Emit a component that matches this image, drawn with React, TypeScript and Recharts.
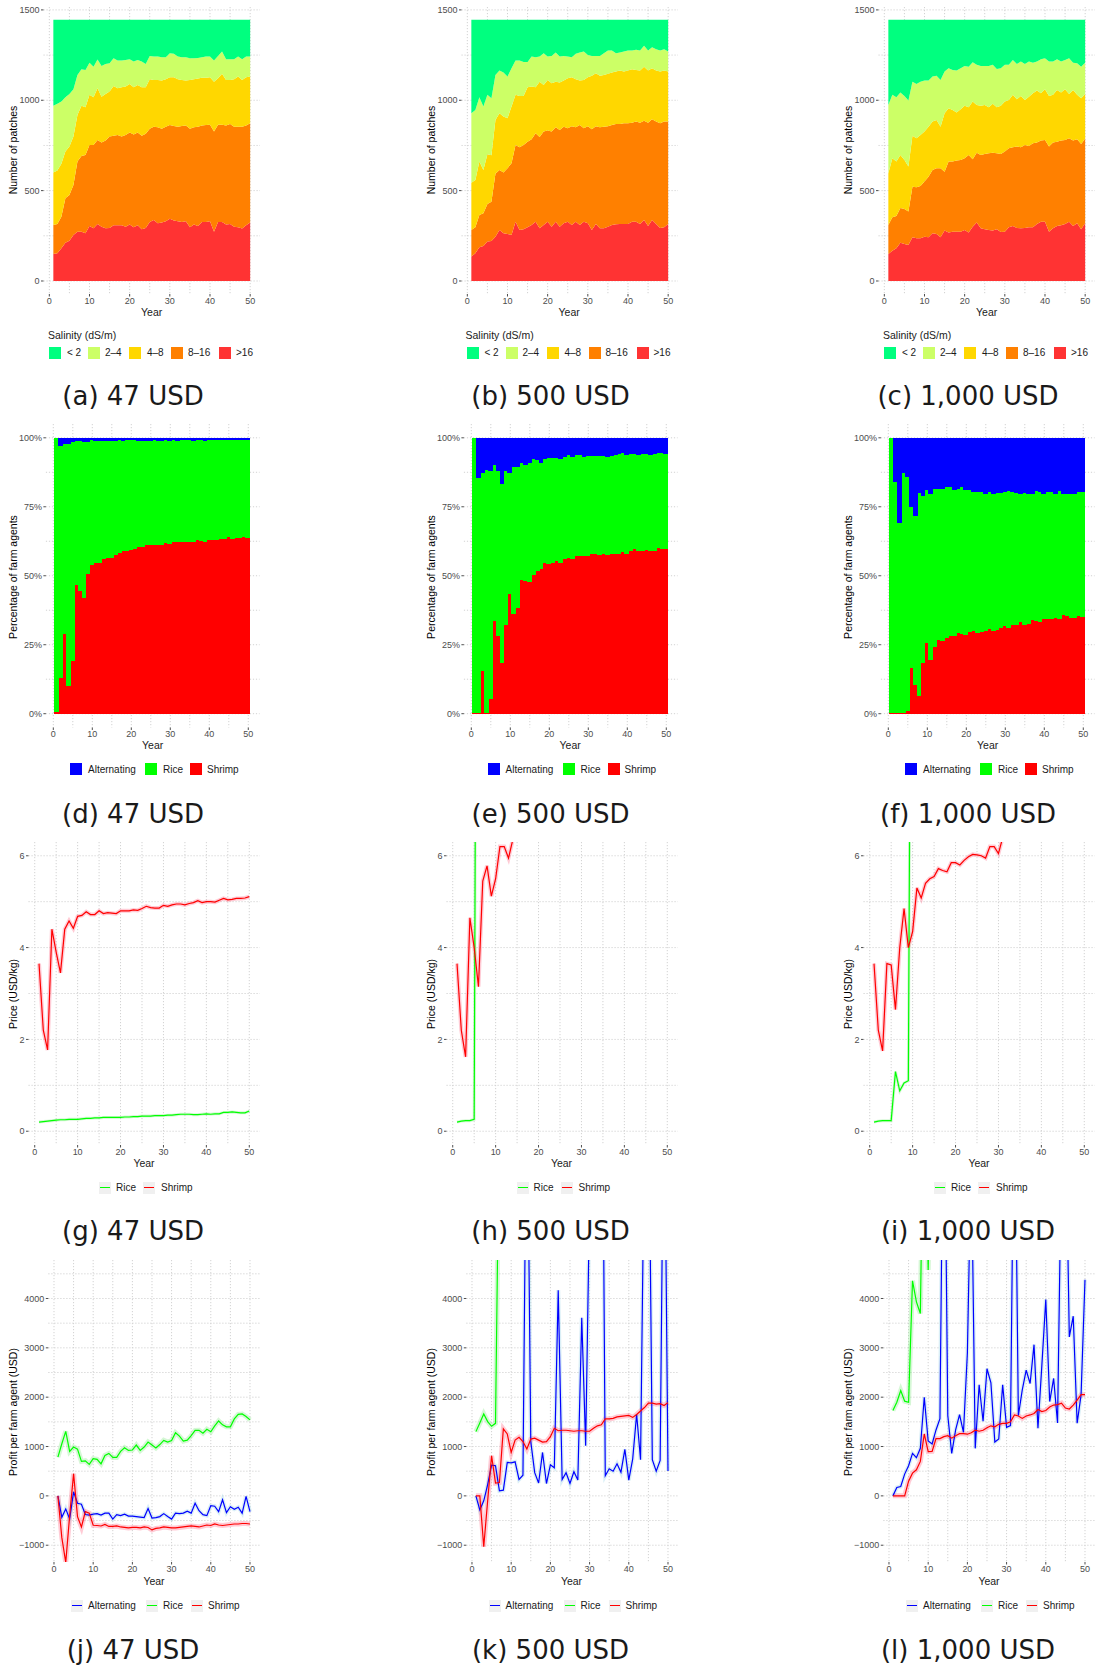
import React from 'react';
import { ComposedChart, Area, Bar, Line, XAxis, YAxis, CartesianGrid } from 'recharts';

// ---- data ----

const YEARS = [1, 2, 3, 4, 5, 6, 7, 8, 9, 10, 11, 12, 13, 14, 15, 16, 17, 18, 19, 20, 21, 22, 23, 24, 25, 26, 27, 28, 29, 30, 31, 32, 33, 34, 35, 36, 37, 38, 39, 40, 41, 42, 43, 44, 45, 46, 47, 48, 49, 50];

const PRICE_LABELS = ['47 USD', '500 USD', '1,000 USD'];

// salinity: cumulative upper edge of each band (number of patches)
const TOTAL_PATCHES = 1445;
const SALINITY_CLASSES = ['>16', '8–16', '4–8', '2–4', '< 2'];

const aRed = [149, 153, 181, 212, 223, 255, 273, 273, 264, 304, 292, 315, 300, 292, 293, 308, 308, 308, 300, 312, 297, 308, 286, 293, 327, 338, 319, 323, 330, 345, 334, 330, 327, 330, 297, 312, 304, 327, 327, 330, 273, 327, 327, 312, 315, 300, 297, 290, 308, 323];
const aOrange = [310, 315, 356, 458, 476, 531, 661, 692, 697, 753, 753, 780, 766, 777, 799, 803, 808, 799, 808, 821, 810, 821, 803, 814, 843, 854, 850, 843, 854, 863, 858, 854, 858, 861, 843, 850, 854, 861, 863, 865, 827, 865, 865, 861, 869, 854, 854, 854, 861, 873];
const aYellow = [600, 611, 648, 716, 744, 799, 919, 969, 961, 1030, 1017, 1066, 1020, 1035, 1048, 1079, 1066, 1072, 1076, 1090, 1072, 1085, 1072, 1072, 1116, 1112, 1112, 1109, 1116, 1127, 1127, 1116, 1112, 1109, 1112, 1116, 1120, 1124, 1124, 1127, 1103, 1122, 1146, 1112, 1112, 1116, 1131, 1112, 1127, 1131];
const aLight = [969, 980, 993, 1017, 1035, 1061, 1140, 1171, 1168, 1208, 1186, 1225, 1190, 1201, 1205, 1232, 1220, 1220, 1223, 1227, 1214, 1223, 1214, 1201, 1245, 1242, 1242, 1238, 1238, 1260, 1258, 1242, 1238, 1238, 1232, 1232, 1234, 1238, 1242, 1242, 1220, 1245, 1270, 1227, 1227, 1227, 1242, 1227, 1242, 1242];

const bRed = [135, 153, 186, 194, 218, 221, 245, 282, 264, 260, 255, 328, 282, 286, 297, 310, 328, 292, 310, 328, 300, 328, 300, 319, 328, 310, 328, 310, 328, 319, 282, 315, 292, 292, 300, 310, 314, 315, 315, 315, 328, 328, 315, 338, 304, 338, 315, 293, 297, 315];
const bOrange = [282, 297, 365, 375, 426, 439, 594, 614, 600, 624, 651, 753, 740, 753, 771, 784, 817, 797, 827, 832, 827, 850, 836, 854, 845, 856, 850, 863, 845, 856, 840, 856, 850, 854, 856, 863, 869, 869, 873, 873, 876, 882, 876, 887, 876, 895, 882, 873, 882, 882];
const bYellow = [544, 559, 661, 614, 701, 696, 891, 928, 910, 900, 965, 1030, 1024, 1024, 1072, 1076, 1072, 1103, 1085, 1112, 1094, 1103, 1098, 1109, 1122, 1127, 1116, 1109, 1112, 1127, 1135, 1149, 1135, 1140, 1146, 1153, 1159, 1164, 1159, 1164, 1172, 1168, 1164, 1186, 1164, 1177, 1164, 1159, 1164, 1159];
const bLight = [928, 946, 1017, 965, 1030, 1011, 1140, 1164, 1153, 1131, 1177, 1220, 1220, 1212, 1212, 1242, 1238, 1242, 1260, 1242, 1245, 1264, 1242, 1245, 1242, 1238, 1258, 1264, 1270, 1251, 1245, 1245, 1245, 1260, 1275, 1275, 1260, 1264, 1270, 1275, 1275, 1279, 1275, 1301, 1275, 1293, 1282, 1275, 1282, 1270];

const cRed = [149, 168, 181, 212, 205, 199, 242, 236, 236, 245, 242, 264, 260, 242, 279, 268, 273, 273, 273, 282, 268, 300, 323, 292, 286, 282, 279, 286, 271, 273, 297, 304, 293, 292, 293, 297, 297, 315, 328, 328, 273, 292, 304, 308, 315, 328, 304, 319, 286, 319];
const cOrange = [310, 352, 360, 404, 399, 384, 522, 518, 526, 550, 577, 614, 624, 624, 605, 661, 661, 666, 670, 679, 697, 673, 710, 697, 703, 707, 710, 707, 703, 716, 734, 740, 744, 740, 753, 747, 762, 766, 777, 780, 744, 766, 771, 777, 780, 790, 777, 784, 758, 788];
const cYellow = [596, 679, 661, 697, 670, 633, 803, 790, 808, 827, 854, 882, 891, 854, 928, 956, 946, 932, 950, 969, 961, 993, 974, 969, 974, 961, 980, 961, 969, 993, 1002, 1030, 1006, 1024, 1002, 1020, 1039, 1054, 1039, 1061, 1024, 1030, 1057, 1043, 1061, 1035, 1057, 1030, 1011, 1035];
const cLight = [974, 1030, 1017, 1043, 1024, 998, 1103, 1090, 1103, 1109, 1109, 1131, 1135, 1112, 1159, 1177, 1168, 1164, 1177, 1190, 1186, 1210, 1197, 1190, 1190, 1190, 1197, 1173, 1177, 1197, 1197, 1223, 1201, 1214, 1201, 1214, 1208, 1214, 1227, 1232, 1214, 1214, 1227, 1214, 1223, 1232, 1208, 1205, 1186, 1208];

// farm types: shrimp share and upper edge of rice share (%)
const dShrimp = [0.5, 13, 29, 10, 19, 46.5, 44.5, 42, 50.5, 54, 54.5, 54.5, 56, 56.5, 56.5, 57.5, 58.3, 59, 59, 59.5, 59.8, 60.3, 60.3, 61, 61, 61, 61.3, 61.3, 62, 61.6, 62.3, 62.4, 62.4, 62.4, 62.4, 62.4, 63, 62.7, 62.3, 63, 63, 63, 63.5, 63.5, 64, 63.4, 63.7, 63.7, 64, 63.7];
const dRiceTop = [100, 97, 97.8, 97.8, 98.5, 98.8, 98.8, 98.5, 98.5, 99.2, 99, 99, 99, 99, 99, 99, 99.2, 98.8, 99.2, 99.2, 99.2, 99, 99, 99, 99, 99.2, 98.9, 98.9, 99.2, 98.9, 99.2, 98.9, 99.2, 99.2, 99.2, 98.9, 99.2, 99.2, 98.9, 99.2, 99.3, 99.3, 99.3, 99.3, 99.3, 99.3, 99.3, 99.3, 99.3, 99.3];

const eShrimp = [0.3, 0.3, 15.5, 0.3, 5.3, 33.5, 28.3, 18.3, 32.3, 43.5, 36.3, 38.3, 48.5, 48.2, 47.8, 50.3, 51.8, 52.3, 54.5, 54.2, 54.8, 55.2, 54.8, 56.2, 56.5, 56, 57.2, 57.2, 57, 57.3, 57.8, 57.8, 57.5, 57.8, 57.5, 58, 58, 58, 58.6, 58, 59, 59.6, 59, 59, 59.3, 59, 59, 60, 59.7, 59.7];
const eRiceTop = [100, 85.3, 87.3, 88.3, 88, 90.2, 88, 83.3, 88, 87.2, 89.3, 89.3, 90.8, 90, 91, 92.2, 91.8, 90.8, 92.3, 92.7, 92.8, 92.8, 92.4, 93.2, 93.6, 93, 93.6, 93.6, 93.2, 93.5, 93.5, 93.5, 93.5, 93.5, 93.2, 93.5, 93.6, 94, 94.5, 93.6, 94.2, 94.2, 93.8, 94.2, 94.2, 93.8, 94.2, 94.5, 94.6, 94.2];

const fShrimp = [0.3, 0.3, 0.3, 0.3, 1, 16.5, 10.3, 6.5, 18.3, 25.8, 19.5, 24.3, 26.7, 26.5, 27.6, 28, 28.3, 29.3, 29, 28.5, 29.6, 30, 29.3, 29.5, 29.8, 30.8, 30, 30.5, 31.2, 31.8, 31.2, 32, 32, 33.2, 32.3, 32.5, 34, 33.6, 33.2, 34.3, 34.3, 34.3, 34.8, 34.5, 35.7, 35.3, 34.8, 34.8, 35.3, 35];
const fRiceTop = [100, 83.8, 69, 87.4, 85.8, 75, 71.8, 80, 78.8, 81, 79.5, 81.5, 81.5, 81.5, 82, 82.3, 81.2, 81.5, 82, 81.2, 81, 80.2, 80.5, 80.2, 79.8, 80.2, 79.8, 80, 80, 80.3, 80.8, 80.3, 80, 79.8, 80, 79.8, 79.5, 80.8, 80.2, 79.5, 80.5, 80.5, 79.5, 80.7, 79.8, 79.8, 79.8, 79.8, 80.2, 80.5];

// prices (USD/kg); later years run off the top of the panel
const gShrimp = [3.65, 2.2, 1.77, 4.4, 3.9, 3.45, 4.4, 4.58, 4.42, 4.68, 4.7, 4.78, 4.72, 4.72, 4.8, 4.74, 4.76, 4.75, 4.74, 4.8, 4.8, 4.8, 4.82, 4.81, 4.85, 4.9, 4.87, 4.86, 4.86, 4.92, 4.9, 4.93, 4.95, 4.95, 4.93, 4.96, 4.98, 5.02, 4.98, 5.0, 5.0, 4.99, 5.03, 5.07, 5.04, 5.05, 5.07, 5.07, 5.08, 5.11];
const gRice = [0.2, 0.21, 0.22, 0.23, 0.24, 0.25, 0.25, 0.26, 0.26, 0.26, 0.27, 0.28, 0.28, 0.29, 0.29, 0.3, 0.3, 0.3, 0.3, 0.3, 0.31, 0.31, 0.32, 0.32, 0.33, 0.33, 0.33, 0.34, 0.34, 0.34, 0.35, 0.35, 0.36, 0.37, 0.37, 0.37, 0.36, 0.36, 0.37, 0.38, 0.37, 0.38, 0.38, 0.41, 0.41, 0.42, 0.41, 0.4, 0.4, 0.44];
const hShrimp = [3.65, 2.2, 1.62, 4.65, 4.0, 3.15, 5.45, 5.78, 5.12, 5.5, 6.2, 6.2, 5.95, 6.35, 6.8];
const hRice = [0.2, 0.22, 0.23, 0.23, 0.26, 25];
const iShrimp = [3.65, 2.2, 1.75, 3.65, 3.62, 2.65, 4.0, 4.85, 4.0, 4.35, 5.3, 5.08, 5.4, 5.5, 5.55, 5.72, 5.68, 5.65, 5.85, 5.85, 5.8, 5.9, 5.98, 6.03, 6.02, 6.0, 5.95, 6.2, 6.2, 6.05, 6.4, 6.6];
const iRice = [0.2, 0.22, 0.23, 0.23, 0.23, 1.3, 0.88, 1.05, 1.1, 20];

// profit per farm agent (USD)
const jAlt = [0, -434, -264, -467, 81, -149, -170, -379, -390, -370, -360, -390, -350, -350, -470, -380, -400, -370, -410, -410, -420, -430, -440, -257, -450, -440, -420, -360, -420, -470, -350, -360, -350, -310, -350, -149, -300, -380, -400, -200, -210, -320, -80, -340, -220, -270, -230, -350, -10, -320];
const jRice = [786, 1057, 1307, 901, 989, 948, 698, 711, 637, 752, 740, 650, 820, 860, 779, 779, 901, 975, 921, 930, 1030, 920, 990, 1091, 1030, 970, 1040, 1125, 1090, 1120, 1280, 1210, 1110, 1130, 1220, 1328, 1330, 1270, 1350, 1300, 1420, 1518, 1440, 1400, 1400, 1560, 1653, 1660, 1610, 1540];
const jShrimp = [0, -847, -1348, -400, 447, -420, -630, -320, -350, -596, -600, -610, -580, -620, -620, -610, -630, -640, -650, -640, -640, -650, -630, -640, -690, -660, -650, -630, -640, -650, -650, -640, -630, -620, -610, -620, -630, -610, -590, -600, -570, -590, -600, -590, -580, -570, -570, -560, -560, -570];

const kAlt = [0, -285, -100, 230, 624, 610, 102, 115, 678, 670, 690, 332, 420, 9000, 1100, 470, 260, 880, 250, 630, 570, 4169, 330, 470, 250, 490, 320, 3607, 1017, 6000, 9000, 9000, 12000, 407, 549, 500, 651, 480, 942, 319, 750, 1654, 732, 7500, 8830, 732, 500, 720, 9000, 502];
const kRice = [1302, 1478, 1661, 1505, 1410, 1470, 8000];
const kShrimp = [0, 0, -1030, -100, 813, 258, 270, 1356, 1254, 881, 1130, 1186, 1100, 949, 1150, 1170, 1130, 1090, 1100, 1200, 1369, 1320, 1330, 1330, 1320, 1310, 1320, 1320, 1310, 1310, 1370, 1420, 1440, 1559, 1560, 1570, 1600, 1610, 1620, 1630, 1590, 1650, 1720, 1790, 1878, 1880, 1860, 1870, 1830, 1890];

const lAlt = [0, 169, 190, 441, 610, 861, 773, 963, 2000, 1112, 1051, 1336, 1566, 9500, 1627, 861, 1336, 1647, 1288, 2900, 7000, 963, 2251, 1512, 2576, 2292, 1092, 1153, 2251, 1390, 1424, 9000, 1627, 2149, 2549, 2278, 3064, 1369, 2650, 3980, 1912, 2380, 1478, 7000, 8000, 3220, 3641, 1471, 2047, 4380];
const lRice = [1729, 1898, 2136, 1919, 1898, 4359, 3932, 3695, 9000, 4576, 9000];
const lShrimp = [0, 0, 0, 0, 298, 461, 529, 698, 1254, 895, 900, 1159, 1160, 1200, 1220, 1170, 1220, 1260, 1260, 1250, 1280, 1330, 1310, 1330, 1380, 1420, 1400, 1450, 1470, 1470, 1500, 1640, 1620, 1570, 1620, 1640, 1670, 1750, 1710, 1730, 1800, 1840, 1850, 1880, 1780, 1760, 1840, 1940, 2050, 2050];

// ---- tables ----

const salinityTable = (red: number[], orange: number[], yellow: number[], light: number[]) =>
  YEARS.map((year, i) => ({
    year,
    s16: red[i],
    s8: orange[i] - red[i],
    s4: yellow[i] - orange[i],
    s2: light[i] - yellow[i],
    s0: TOTAL_PATCHES - light[i],
  }));

const shareTable = (shrimp: number[], riceTop: number[]) =>
  YEARS.map((year, i) => ({ year, shrimp: shrimp[i], rice: riceTop[i] - shrimp[i], alt: 100 - riceTop[i] }));

const lineTable = (rice: number[], shrimp: number[], alt?: number[]) =>
  YEARS.map((year, i) => ({
    year,
    rice: rice[i] ?? null,
    shrimp: shrimp[i] ?? null,
    alt: alt ? alt[i] ?? null : null,
  }));

const salinityData = [salinityTable(aRed, aOrange, aYellow, aLight), salinityTable(bRed, bOrange, bYellow, bLight), salinityTable(cRed, cOrange, cYellow, cLight)];
const shareData = [shareTable(dShrimp, dRiceTop), shareTable(eShrimp, eRiceTop), shareTable(fShrimp, fRiceTop)];
const priceData = [lineTable(gRice, gShrimp), lineTable(hRice, hShrimp), lineTable(iRice, iShrimp)];
const profitData = [lineTable(jRice, jShrimp, jAlt), lineTable(kRice, kShrimp, kAlt), lineTable(lRice, lShrimp, lAlt)];

// ---- layout ----

const FONT = '"Liberation Sans", Arial, Helvetica, sans-serif';
const COLS = [0, 417.5, 835];
const ROWS = [
  { top: 7, bottom: 294, left: 43.5, right: 260 },
  { top: 424, bottom: 727.5, left: 45.9, right: 259.6 },
  { top: 842, bottom: 1145, left: 28.5, right: 259.8 },
  { top: 1260, bottom: 1562, left: 48.3, right: 259.6 },
];
const PAD = 10;
const X_TICKS = [0, 10, 20, 30, 40, 50];
const X_GRID = [0, 5, 10, 15, 20, 25, 30, 35, 40, 45, 50];
const SAL_COLORS = ['#FF3333', '#FF8000', '#FFD700', '#CCFF66', '#00FF7F'];
const C_ALT = '#0000FF';
const C_RICE = '#00FF00';
const C_SHRIMP = '#FF0000';
const BAR_W = 4.8; // a year is ~3.9px wide; the overlap keeps the columns solid

const tickStyle = { fontSize: 9, fill: '#4d4d4d', fontFamily: FONT };
const minus = (v: number) => (v < 0 ? '\u2212' + Math.abs(v) : String(v));

type FrameProps = {
  col: number;
  row: number;
  data: any[];
  xDomain: number[];
  yDomain: number[];
  yTicks: number[];
  yGrid: number[];
  yFmt?: (v: number) => string;
  children: React.ReactNode;
};

const Frame = ({ col, row, data, xDomain, yDomain, yTicks, yGrid, yFmt, children }: FrameProps) => {
  const g = ROWS[row];
  return (
    <div style={{ position: 'absolute', left: COLS[col], top: g.top - PAD }}>
      <ComposedChart width={g.right + PAD} height={g.bottom - g.top + 20 + PAD} data={data}
        margin={{ top: PAD, right: PAD, bottom: 0, left: 0 }}>
        <CartesianGrid verticalValues={X_GRID} horizontalValues={yGrid} stroke="#d2d2d2" strokeDasharray="1.2 1.8" />
        <XAxis type="number" dataKey="year" domain={xDomain} ticks={X_TICKS} interval={0} allowDataOverflow axisLine={false}
          tickSize={2.5} tickMargin={1} height={20} tick={tickStyle} tickLine={{ stroke: '#4d4d4d' }} />
        <YAxis type="number" domain={yDomain} ticks={yTicks} interval={0} allowDataOverflow axisLine={false} width={g.left}
          tickSize={2.5} tickMargin={1.5} tick={tickStyle} tickLine={{ stroke: '#4d4d4d' }} tickFormatter={yFmt} />
        {children}
      </ComposedChart>
    </div>
  );
};

const Txt = ({ x, y, size, children, center, family }: { x: number; y: number; size: number; children: React.ReactNode; center?: boolean; family?: string }) => (
  <div style={{
    position: 'absolute', left: x, top: y - size * 0.6, lineHeight: `${size * 1.2}px`, fontSize: size,
    fontFamily: family || FONT, color: '#1a1a1a', whiteSpace: 'nowrap', transform: center ? 'translateX(-50%)' : undefined,
  }}>{children}</div>
);

const YTitle = ({ cy, children }: { cy: number; children: React.ReactNode }) => (
  <div style={{
    position: 'absolute', left: 13, top: cy, fontSize: 10.5, fontFamily: FONT, color: '#000', whiteSpace: 'nowrap',
    transform: 'translate(-50%, -50%) rotate(-90deg)', lineHeight: '12px',
  }}>{children}</div>
);

const SquareKey = ({ x, y, color }: { x: number; y: number; color: string }) => (
  <div style={{ position: 'absolute', left: x, top: y, width: 12, height: 12, background: color }} />
);

const LineKey = ({ x, y, color }: { x: number; y: number; color: string }) => (
  <div style={{ position: 'absolute', left: x, top: y, width: 12, height: 12, background: '#f0f0f0' }}>
    <div style={{ position: 'absolute', left: 1, top: 5.3, width: 10, height: 1.5, background: color }} />
  </div>
);

const Caption = ({ col, cy, letter }: { col: number; cy: number; letter: string }) => (
  <Txt x={COLS[col] + 133} y={cy} size={26} center family='"DejaVu Sans", sans-serif'>
    ({letter}) {PRICE_LABELS[col]}
  </Txt>
);

const SalinityPanel = ({ col }: { col: number }) => {
  const keys = ['s16', 's8', 's4', 's2', 's0'];
  // legend runs from "< 2" to ">16"
  const order = [4, 3, 2, 1, 0];
  const keyX = [49, 88, 129, 171, 219];
  const labX = [67, 105, 147, 188, 236];
  return (
    <>
      <Frame col={col} row={0} data={salinityData[col]} xDomain={[-1.45, 52.45]} yDomain={[-72, 1516]}
        yTicks={[0, 500, 1000, 1500]} yGrid={[0, 250, 500, 750, 1000, 1250, 1500]}>
        {keys.map((k, i) => (
          <Area key={k} type="linear" dataKey={k} stackId="s" stroke="none" fill={SAL_COLORS[i]} fillOpacity={1}
            isAnimationActive={false} dot={false} activeDot={false} />
        ))}
      </Frame>
      <Txt x={COLS[col] + 151.7} y={312} size={10.5} center>Year</Txt>
      <Txt x={COLS[col] + 48} y={335} size={10.5}>Salinity (dS/m)</Txt>
      {order.map((ci, j) => (
        <React.Fragment key={ci}>
          <SquareKey x={COLS[col] + keyX[j]} y={347} color={SAL_COLORS[ci]} />
          <Txt x={COLS[col] + labX[j]} y={353} size={10}>{SALINITY_CLASSES[ci]}</Txt>
        </React.Fragment>
      ))}
      <Caption col={col} cy={397} letter={['a', 'b', 'c'][col]} />
    </>
  );
};

// full-width column drawn around the position Recharts gives each bar
const SolidColumn = (p: any) => {
  if (!p.height || p.height <= 0) return null;
  return (
    <rect x={p.x + p.width / 2 - BAR_W / 2} y={p.y} width={BAR_W} height={p.height} fill={p.fill}
      shapeRendering="crispEdges" />
  );
};

const SharePanel = ({ col }: { col: number }) => (
  <>
    <Frame col={col} row={1} data={shareData[col]} xDomain={[-1.9, 52.9]} yDomain={[-5, 105]}
      yTicks={[0, 25, 50, 75, 100]} yGrid={[0, 12.5, 25, 37.5, 50, 62.5, 75, 87.5, 100]} yFmt={(v) => `${v}%`}>
      <Bar dataKey="shrimp" stackId="f" fill={C_SHRIMP} barSize={3} shape={SolidColumn} isAnimationActive={false} />
      <Bar dataKey="rice" stackId="f" fill={C_RICE} barSize={3} shape={SolidColumn} isAnimationActive={false} />
      <Bar dataKey="alt" stackId="f" fill={C_ALT} barSize={3} shape={SolidColumn} isAnimationActive={false} />
    </Frame>
    <Txt x={COLS[col] + 152.7} y={745} size={10.5} center>Year</Txt>
    <SquareKey x={COLS[col] + 70} y={763} color={C_ALT} />
    <Txt x={COLS[col] + 88} y={769.5} size={10}>Alternating</Txt>
    <SquareKey x={COLS[col] + 145} y={763} color={C_RICE} />
    <Txt x={COLS[col] + 163} y={769.5} size={10}>Rice</Txt>
    <SquareKey x={COLS[col] + 190} y={763} color={C_SHRIMP} />
    <Txt x={COLS[col] + 207} y={769.5} size={10}>Shrimp</Txt>
    <Caption col={col} cy={815} letter={['d', 'e', 'f'][col]} />
  </>
);

const line = (key: string, color: string, width = 1.2) => (
  <Line key={key + width} type="linear" dataKey={key} stroke={color} strokeWidth={width} dot={false} activeDot={false}
    isAnimationActive={false} connectNulls={false} />
);

const PricePanel = ({ col }: { col: number }) => (
  <>
    <Frame col={col} row={2} data={priceData[col]} xDomain={[-1.45, 52.45]} yDomain={[-0.3, 6.3]}
      yTicks={[0, 2, 4, 6]} yGrid={[0, 1, 2, 3, 4, 5, 6]}>
      {line('shrimp', 'rgba(255,105,135,0.35)', 4)}
      {line('rice', 'rgba(120,230,120,0.3)', 3)}
      {line('rice', C_RICE)}
      {line('shrimp', C_SHRIMP)}
    </Frame>
    <Txt x={COLS[col] + 144} y={1163} size={10.5} center>Year</Txt>
    <LineKey x={COLS[col] + 99} y={1181.5} color={C_RICE} />
    <Txt x={COLS[col] + 116} y={1187.5} size={10}>Rice</Txt>
    <LineKey x={COLS[col] + 143} y={1181.5} color={C_SHRIMP} />
    <Txt x={COLS[col] + 161} y={1187.5} size={10}>Shrimp</Txt>
    <Caption col={col} cy={1232} letter={['g', 'h', 'i'][col]} />
  </>
);

const ProfitPanel = ({ col }: { col: number }) => (
  <>
    <Frame col={col} row={3} data={profitData[col]} xDomain={[-1.45, 52.45]} yDomain={[-1340, 4780]}
      yTicks={[-1000, 0, 1000, 2000, 3000, 4000]} yGrid={[-1000, -500, 0, 500, 1000, 1500, 2000, 2500, 3000, 3500, 4000, 4500]} yFmt={minus}>
      {line('alt', 'rgba(150,210,230,0.35)', 4)}
      {line('rice', 'rgba(120,230,120,0.3)', 5)}
      {line('shrimp', 'rgba(255,105,135,0.35)', 5)}
      {line('alt', C_ALT)}
      {line('rice', C_RICE)}
      {line('shrimp', C_SHRIMP)}
    </Frame>
    <Txt x={COLS[col] + 154} y={1581} size={10.5} center>Year</Txt>
    <LineKey x={COLS[col] + 71} y={1599.5} color={C_ALT} />
    <Txt x={COLS[col] + 88} y={1605.5} size={10}>Alternating</Txt>
    <LineKey x={COLS[col] + 146} y={1599.5} color={C_RICE} />
    <Txt x={COLS[col] + 163} y={1605.5} size={10}>Rice</Txt>
    <LineKey x={COLS[col] + 191} y={1599.5} color={C_SHRIMP} />
    <Txt x={COLS[col] + 208} y={1605.5} size={10}>Shrimp</Txt>
    <Caption col={col} cy={1651} letter={['j', 'k', 'l'][col]} />
  </>
);

const ColTitles = ({ col }: { col: number }) => (
  <div style={{ position: 'absolute', left: COLS[col], top: 0, width: 300, height: 1672 }}>
    <YTitle cy={150}>Number of patches</YTitle>
    <YTitle cy={577}>Percentage of farm agents</YTitle>
    <YTitle cy={994}>Price (USD/kg)</YTitle>
    <YTitle cy={1412}>Profit per farm agent (USD)</YTitle>
  </div>
);

export default function App() {
  return (
    <div style={{ position: 'absolute', left: 0, top: 0, width: 1097, height: 1672, background: '#fff', overflow: 'hidden' }}>
      {[0, 1, 2].map((col) => (
        <React.Fragment key={col}>
          <SalinityPanel col={col} />
          <SharePanel col={col} />
          <PricePanel col={col} />
          <ProfitPanel col={col} />
          <ColTitles col={col} />
        </React.Fragment>
      ))}
    </div>
  );
}
